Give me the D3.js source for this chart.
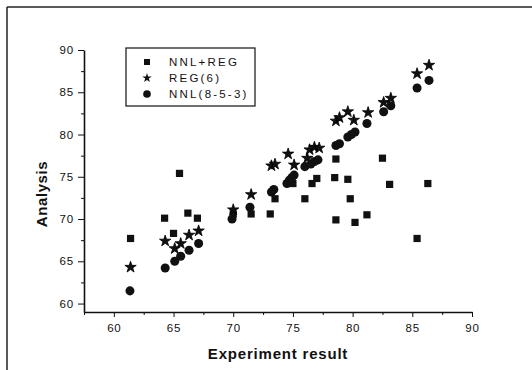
<!DOCTYPE html>
<html lang="en">
  <head>
    <meta charset="UTF-8" />
    <title>Analysis vs Experiment result</title>
    <script src="https://d3js.org/d3.v7.min.js"></script>
    <style>
      body { margin: 0; background: #fff; }
      text { font-family: "Liberation Sans", Arial, sans-serif; fill: #111; }
    </style>
  </head>
  <body>
    <div id="chart"></div>
    <script>
      // series
      const nnlRegX = [61.4, 64.25, 65.0, 65.5, 66.2, 67.0, 70.0, 71.5, 73.1, 73.5, 75.0, 76.0, 76.6, 77.0,
        78.6, 78.5, 78.6, 79.6, 79.8, 80.2, 81.2, 82.5, 83.1, 85.4, 86.3];
      const nnlRegY = [67.7, 70.1, 68.3, 75.4, 70.7, 70.1, 70.6, 70.6, 70.6, 72.4, 74.2, 72.4, 74.2, 74.8,
        77.1, 74.9, 69.9, 74.7, 72.4, 69.6, 70.5, 77.2, 74.1, 67.7, 74.2];

      const reg6X = [61.4, 64.3, 65.1, 65.6, 66.3, 67.1, 70.0, 71.5, 73.2, 73.5, 74.6, 75.1, 76.2, 76.4,
        76.8, 77.2, 78.6, 78.9, 79.6, 80.1, 81.3, 82.6, 83.2, 85.4, 86.4];
      const reg6Y = [64.3, 67.4, 66.5, 67.1, 68.1, 68.6, 71.1, 72.9, 76.3, 76.5, 77.7, 76.4, 77.2, 78.2,
        78.5, 78.4, 81.6, 82.0, 82.7, 81.7, 82.6, 83.8, 84.3, 87.2, 88.2];

      const nnl853X = [61.35, 64.3, 65.1, 65.6, 66.3, 67.1, 69.9, 71.4, 73.2, 73.4, 74.5, 74.7, 74.9, 75.1,
        76.0, 76.5, 76.8, 77.1, 78.6, 78.9, 79.6, 79.9, 80.2, 81.2, 82.6, 83.2, 85.4, 86.4];
      const nnl853Y = [61.5, 64.2, 65.0, 65.6, 66.3, 67.1, 70.0, 71.4, 73.2, 73.5, 74.2, 74.6, 74.9, 75.2,
        76.2, 76.5, 76.8, 77.0, 78.7, 78.9, 79.7, 80.0, 80.3, 81.3, 82.7, 83.4, 85.5, 86.4];

      const seriesNames = ["NNL+REG", "REG(6)", "NNL(8-5-3)"];
      const xTicks = [60, 65, 70, 75, 80, 85, 90];
      const yTicks = [60, 65, 70, 75, 80, 85, 90];
      const xMinor = [57.5, 62.5, 67.5, 72.5, 77.5, 82.5, 87.5];
      const yMinor = [62.5, 67.5, 72.5, 77.5, 82.5, 87.5];

      const width = 532, height = 370;
      const svg = d3.select("#chart").append("svg")
        .attr("width", width).attr("height", height);

      // outer frame (top and left edges only, as in the scan)
      svg.append("line").attr("x1", 7).attr("y1", 7).attr("x2", 532).attr("y2", 7)
        .attr("stroke", "#222").attr("stroke-width", 1.5);
      svg.append("line").attr("x1", 7).attr("y1", 7).attr("x2", 7).attr("y2", 370)
        .attr("stroke", "#222").attr("stroke-width", 1.5);

      const x = d3.scaleLinear().domain([57.5, 90]).range([84, 472]);
      const y = d3.scaleLinear().domain([59, 90]).range([312, 50]);

      // axes
      svg.append("g").attr("transform", "translate(0,312)")
        .call(d3.axisBottom(x).tickValues(xTicks).tickSize(5).tickPadding(7).tickSizeOuter(0));
      svg.append("g").attr("transform", "translate(0,312)")
        .call(d3.axisBottom(x).tickValues(xMinor).tickSize(3).tickFormat("").tickSizeOuter(0))
        .select(".domain").remove();
      svg.append("g").attr("transform", "translate(84,0)")
        .call(d3.axisLeft(y).tickValues(yTicks).tickSize(6).tickPadding(4).tickSizeOuter(0));
      svg.append("g").attr("transform", "translate(84,0)")
        .call(d3.axisLeft(y).tickValues(yMinor).tickSize(3).tickFormat("").tickSizeOuter(0))
        .select(".domain").remove();

      svg.selectAll(".domain").attr("stroke", "#111").attr("stroke-width", 1.6);
      svg.selectAll(".tick line").attr("stroke", "#111").attr("stroke-width", 1);
      svg.selectAll(".tick text")
        .style("font-family", '"Liberation Sans", Arial, sans-serif')
        .style("font-size", "11.5px").style("letter-spacing", "0.8px").attr("fill", "#222");

      // axis titles
      svg.append("text").attr("x", 278).attr("y", 359).attr("text-anchor", "middle")
        .style("font-size", "15px").style("font-weight", "bold").style("letter-spacing", "0.8px")
        .text("Experiment result");
      svg.append("text").attr("transform", "translate(47,194) rotate(-90)").attr("text-anchor", "middle")
        .style("font-size", "15px").style("font-weight", "bold").style("letter-spacing", "0.6px")
        .text("Analysis");

      const shapes = [
        { type: d3.symbolSquare, size: 52, xs: nnlRegX, ys: nnlRegY },
        { type: d3.symbolStar, size: 40, xs: reg6X, ys: reg6Y },
        { type: d3.symbolCircle, size: 64, xs: nnl853X, ys: nnl853Y },
      ];

      shapes.forEach(function (s) {
        const pts = s.xs.map(function (v, i) { return [v, s.ys[i]]; });
        svg.append("g").selectAll("path").data(pts).enter().append("path")
          .attr("transform", function (d) { return "translate(" + x(d[0]) + "," + y(d[1]) + ")"; })
          .attr("d", d3.symbol().type(s.type).size(s.size))
          .attr("fill", "#111")
          .attr("stroke", "#000")
          .attr("stroke-width", s.type === d3.symbolStar ? 0.8 : 0);
      });

      // legend
      const legend = svg.append("g");
      legend.append("rect").attr("x", 126).attr("y", 48).attr("width", 129).attr("height", 58)
        .attr("fill", "#fff").attr("stroke", "#111").attr("stroke-width", 1.2);
      const rowY = [62, 78, 94];
      const legendSizes = [36, 28, 46];
      seriesNames.forEach(function (name, i) {
        legend.append("path")
          .attr("transform", "translate(147," + rowY[i] + ")")
          .attr("d", d3.symbol().type(shapes[i].type).size(legendSizes[i]))
          .attr("fill", "#111");
        legend.append("text").attr("x", 169).attr("y", rowY[i] + 4)
          .style("font-size", "11.5px").style("letter-spacing", "2.2px")
          .text(name);
      });
    </script>
  </body>
</html>
